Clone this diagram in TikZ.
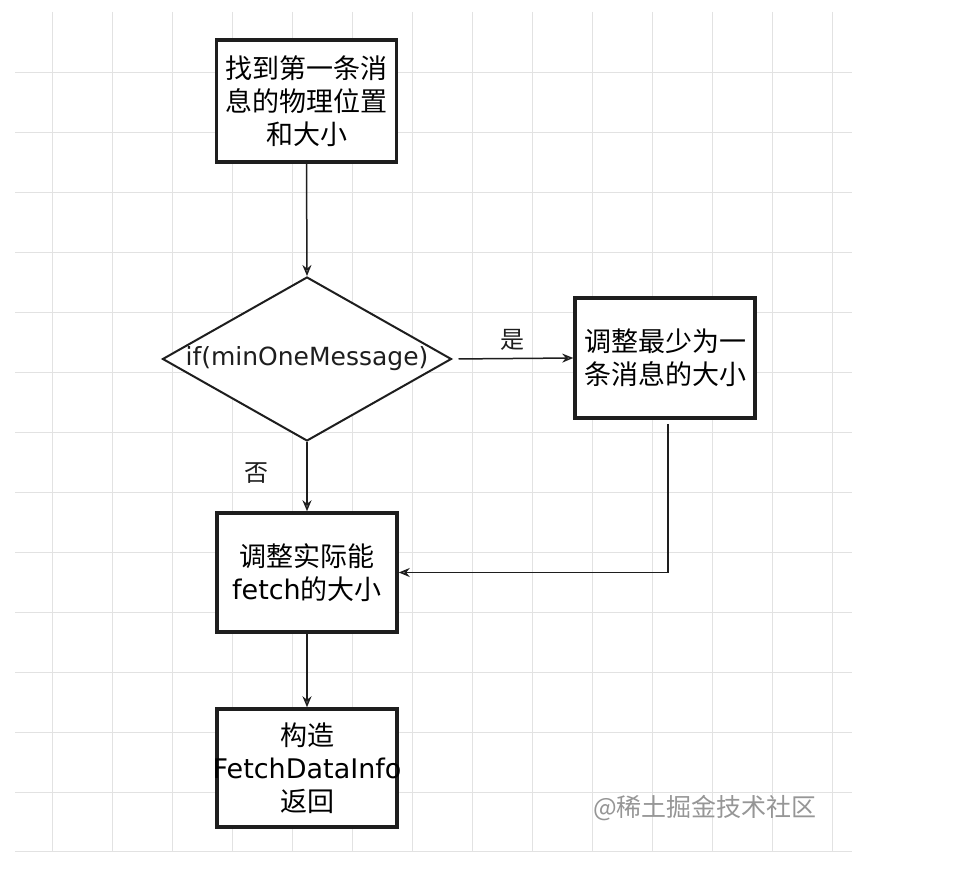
\documentclass[tikz,border=0pt]{standalone}
\usepackage{fontspec}
\setmainfont{Noto Sans CJK SC}
\newfontfamily\latinfont{DejaVu Sans}
\usepackage{xcolor}
\definecolor{ink}{RGB}{30,30,30}
\definecolor{gridgray}{RGB}{226,226,226}
\definecolor{mark}{RGB}{150,150,150}
\usetikzlibrary{arrows.meta,positioning,shapes.geometric}

\begin{document}
\begin{tikzpicture}[x=1pt,y=-1pt,
  stepbox/.style={rectangle,draw=ink,line width=3.5pt,fill=white,
                  minimum width=180pt,inner sep=0pt,align=center,
                  font=\fontsize{27}{33}\selectfont},
  decision/.style={diamond,draw=ink,line width=2pt,fill=white,
                   minimum width=289pt,minimum height=164pt,inner sep=0pt},
  flow/.style={draw=ink,line width=1.5pt,
               -{Stealth[open,length=11pt,width=9pt]}},
  gridline/.style={draw=gridgray,line width=0.8pt},
  tag/.style={font=\fontsize{24}{28}\selectfont,text=ink},
]
  %% page and grid paper
  \useasboundingbox[fill=white] (0,0) rectangle (964,877);
  \foreach \gx in {52,112,...,832}{%
    \draw[gridline] (\gx,12) -- (\gx,851);
  }
  \foreach \gy in {72,132,...,792}{%
    \draw[gridline] (15,\gy) -- (852,\gy);
  }
  \draw[gridline] (15,851) -- (852,851);

  %% steps
  \node[stepbox,minimum height=122pt](find) at (306.5,101) {%
    找到第一条消\\息的物理位置\\和大小};
  \node[decision](check) at (307,359) {};
  \node[font=\latinfont\fontsize{25}{30}\selectfont,text=ink](cond)
    at (check) {if(minOneMessage)};
  \node[stepbox,minimum height=120pt](adjmin) at (665,358) {%
    调整最少为一\\条消息的大小};
  \node[stepbox,minimum height=119pt](adjust) at (307,572.5) {%
    调整实际能\\{\latinfont fetch}的大小};
  \node[stepbox,minimum height=118pt](build) at (307,768) {%
    构造\\\makebox[170pt][c]{\latinfont FetchDataInfo}\\返回};

  %% connectors
  \draw[flow](find.south)--(check.north);
  \draw[flow,shorten <=6pt](check.east)--(adjmin.west)
    node[tag,midway,above=4pt](yes){是};
  \draw[flow](check.south)--(adjust.north)
    node[tag,pos=0.45,left=34pt](no){否};
  \draw[flow,shorten <=4pt]([xshift=3pt]adjmin.south) |- (adjust.east);
  \draw[flow](adjust.south)--(build.north);

  %% watermark
  \node[font=\fontsize{25}{30}\selectfont,text=mark](wm) at (705,808)
    {@稀土掘金技术社区};
\end{tikzpicture}
\end{document}
